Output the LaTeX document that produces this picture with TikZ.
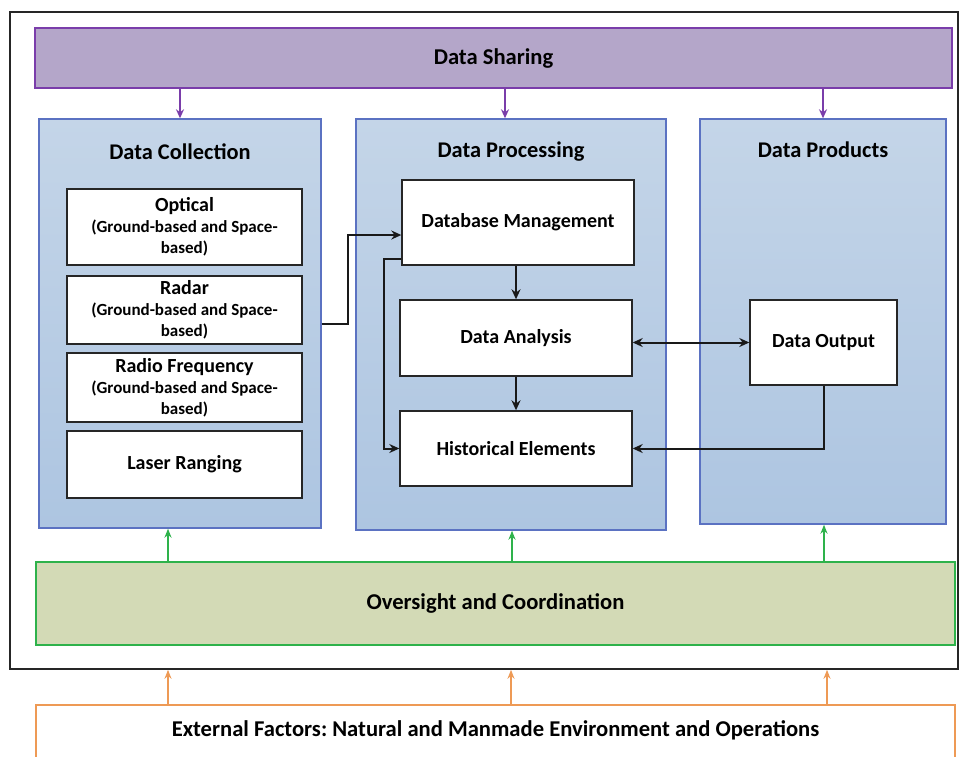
\documentclass[tikz,border=0pt]{standalone}
\usepackage{fontspec}
\setmainfont{Carlito}
\usetikzlibrary{arrows.meta,calc}
\frenchspacing
\definecolor{purpB}{HTML}{7A3DAA}
\definecolor{purpF}{HTML}{B4A6C9}
\definecolor{blueB}{HTML}{5B72C2}
\definecolor{blueT}{HTML}{C4D5E8}
\definecolor{blueBot}{HTML}{ADC5E1}
\definecolor{greenB}{HTML}{2EB24B}
\definecolor{greenF}{HTML}{D3DAB6}
\definecolor{orangeB}{HTML}{EE9A55}
\begin{document}
\begin{tikzpicture}[x=1pt,y=-1pt,
  frame/.style={draw=black!85, line width=1.6pt, inner sep=0pt},
  bar/.style={line width=1.8pt, inner sep=0pt, font=\bfseries\fontsize{22.6}{24}\selectfont},
  panel/.style={draw=blueB, line width=1.4pt, top color=blueT, bottom color=blueBot, inner sep=0pt},
  title/.style={font=\bfseries\fontsize{22.4}{24}\selectfont, inner sep=0pt},
  wbox/.style={draw=black!85, line width=1.4pt, fill=white, align=center, inner sep=0pt,
    font=\bfseries\fontsize{20}{21}\selectfont},
  conn/.style={draw=black!90, line width=2pt, -{Stealth[length=10pt,width=9pt]}},
  pconn/.style={draw=purpB, line width=1.8pt, -{Stealth[length=9pt,width=8pt]}},
  gconn/.style={draw=greenB, line width=1.8pt, -{Stealth[length=9pt,width=7pt]}},
  oconn/.style={draw=orangeB, line width=1.8pt, -{Stealth[length=9pt,width=7pt]}}
]
\useasboundingbox (0,0) rectangle (961,756);
\clip (0,0) rectangle (961,756);
\fill[white] (0,0) rectangle (961,756);

% outer frame
\node[frame, minimum width=948pt, minimum height=657pt] (frame) at (484,340.5) {};

% Data sharing bar
\node[bar, draw=purpB, fill=purpF, minimum width=917pt, minimum height=60pt] (share) at (493.5,58) {Data Sharing};

% panels
\node[panel, minimum width=282pt, minimum height=409pt] (coll) at (180,323.5) {};
\node[panel, minimum width=310pt, minimum height=411pt] (proc) at (511,324.5) {};
\node[panel, minimum width=246pt, minimum height=405pt] (prod) at (823,321.5) {};

\node[title] (tcoll) at (180,152) {Data Collection};
\node[title] (tproc) at (511,152) {Data Processing};
\node[title] (tprod) at (823,150) {Data Products};

% data collection boxes
\node[wbox, minimum width=235pt, minimum height=76pt] (optical) at (184.5,227)
  {Optical\\{\fontsize{17}{21}\selectfont(Ground-based and Space-}\\{\fontsize{17}{21}\selectfont based)}};
\node[wbox, minimum width=235pt, minimum height=68pt] (radar) at (184.5,310)
  {Radar\\{\fontsize{17}{21}\selectfont(Ground-based and Space-}\\{\fontsize{17}{21}\selectfont based)}};
\node[wbox, minimum width=235pt, minimum height=69pt] (radio) at (184.5,387.5)
  {Radio Frequency\\{\fontsize{17}{21}\selectfont(Ground-based and Space-}\\{\fontsize{17}{21}\selectfont based)}};
\node[wbox, minimum width=235pt, minimum height=67pt] (laser) at (184.5,464.5) {Laser Ranging};

% data processing boxes
\node[wbox, minimum width=232pt, minimum height=85pt] (dbm) at (518,222.5) {Database Management};
\node[wbox, minimum width=232pt, minimum height=76pt] (ana) at (516,338) {Data Analysis};
\node[wbox, minimum width=232pt, minimum height=75pt] (hist) at (516,448.5) {Historical Elements};

% data products
\node[wbox, minimum width=147pt, minimum height=85pt] (out) at (823.5,342.5) {Data Output};

% oversight
\node[bar, draw=greenB, fill=greenF, minimum width=919pt, minimum height=83pt] (over) at (495.5,603.5) {Oversight and Coordination};

% external factors
\node[draw=orangeB, line width=1.8pt, fill=white, minimum width=919pt, minimum height=90pt, inner sep=0pt] (ext) at (495.5,750) {};
\node[bar] (extlabel) at (495.5,730) {External Factors: Natural and Manmade Environment and Operations};

% purple arrows
\draw[pconn] (share.south -| coll.north) -- (coll.north);
\coordinate (pp) at ([xshift=-6pt]proc.north);
\draw[pconn] (share.south -| pp) -- (pp);
\draw[pconn] (share.south -| prod.north) -- (prod.north);

% green arrows
\coordinate (gc) at ([xshift=-12pt]coll.south);
\coordinate (gp) at ([xshift=1pt]proc.south);
\coordinate (gr) at ([xshift=1pt]prod.south);
\draw[gconn] (over.north -| gc) -- (gc);
\draw[gconn] (over.north -| gp) -- (gp);
\draw[gconn] (over.north -| gr) -- (gr);

% orange arrows
\coordinate (oc) at ([xshift=-12pt]frame.south -| coll.south);
\coordinate (op) at (frame.south -| proc.south);
\coordinate (or) at ([xshift=4pt]frame.south -| prod.south);
\draw[oconn] (ext.north -| oc) -- (oc);
\draw[oconn] (ext.north -| op) -- (op);
\draw[oconn] (ext.north -| or) -- (or);

% black connectors
\draw[conn] (coll.east) -- ++(26,0) |- ([yshift=-12.5pt]dbm.west);
\draw[conn] ([yshift=7pt]dbm.south west) -- ++(-17,0) |- (hist.west);
\draw[conn] (dbm.south -| ana.north) -- (ana.north);
\draw[conn] (ana.south) -- (hist.north);
\draw[conn, {Stealth[length=10pt,width=9pt]}-{Stealth[length=10pt,width=9pt]}] (out.west -| ana.east) -- (out.west);
\draw[conn] (out.south) |- (hist.east);
\end{tikzpicture}
\end{document}
